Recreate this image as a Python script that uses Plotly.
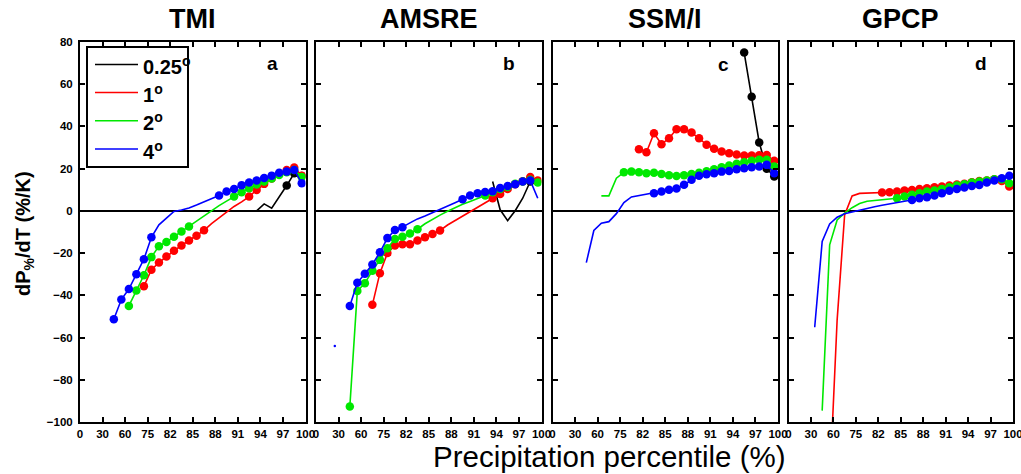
import plotly.graph_objects as go

N = 30  # percentile bins
tick_labels = ["0", "30", "60", "75", "82", "85", "88", "91", "94", "97", "100"]
panel_titles = ["TMI", "AMSRE", "SSM/I", "GPCP"]
panel_letters = ["a", "b", "c", "d"]
series_names = ["0.25<sup>o</sup>", "1<sup>o</sup>", "2<sup>o</sup>", "4<sup>o</sup>"]
series_colors = ["#000000", "#ff0000", "#00e800", "#0000ff"]


def series(start, values):
    out = [None] * N
    for i, v in enumerate(values):
        out[start + i] = v
    return out


# ---- TMI ----
tmi_025 = series(23, [0, 3.3, 1.3, 6.5, 12, 17.8, 16.5])
tmi_025_marked = [(27, 29)]
tmi_1 = series(8, [-35.7, -27.9, -24.5, -21.6, -18.9, -16.4, -14, -11.8, -9.2, -6, -3.2, -0.3,
                   2.1, 4.3, 6.8, 9.9, 12.8, 15.3, 17.5, 19.4, 20.5, 16.7])
tmi_1_marked = [(8, 16), (22, 29)]
tmi_2 = series(6, [-45, -37.7, -30.5, -21.9, -16.7, -14.7, -12.2, -9.8, -7.4, -4.6, -2.1, 0.3,
                   2.5, 4.6, 6.8, 8.8, 10.7, 12.5, 13.9, 15.3, 17.0, 18.3, 19.4, 16.1])
tmi_2_marked = [(6, 14), (20, 29)]
tmi_4 = series(4, [-51.3, -42, -37, -30, -22.9, -12.5, -6.6, -3.4, -0.3, 0.4, 1.4, 2.8, 4.3, 5.7,
                   7.3, 9.2, 10.4, 12.2, 13.4, 14.4, 15.6, 16.7, 18.1, 18.6, 19.4, 13.1])
tmi_4_marked = [(4, 9), (18, 29)]

# ---- AMSRE ----
amsre_025 = series(23, [13.9, 0.5, -4.6, 0.1, 6, 13.9])
amsre_025_marked = [(28, 28)]
amsre_1 = series(7, [-44.5, -29.5, -20, -16.4, -15.8, -15.8, -14, -12.5, -10.9, -9.3, -6.7, -4.6,
                     -2.6, -0.5, 1.6, 3.7, 6, 8, 10.4, 12.6, 14, 16, 14.4])
amsre_1_marked = [(7, 16), (23, 29)]
amsre_2 = series(4, [-92.7, -37.9, -34.3, -28.3, -23.2, -17.7, -13.3, -12.2, -10.7, -8.7, -6.1,
                     -3.9, -2, -0.2, 1.6, 3.1, 4.5, 5.8, 7.3, 8.8, 10.4, 11.3, 12.8, 13.9, 14.7, 13.4])
amsre_2_marked = [(4, 13), (22, 29)]
amsre_4 = series(2, [-64, None, -45, -34, -29.8, -25.4, -19.6, -12.9, -9, -7.7, -5.7, -3.8, -2.4,
                     -0.9, 0.7, 2.3, 3.9, 5.5, 7.3, 8.4, 8.9, 9.3, 10.8, 11.8, 12.6, 13.9, 14.4, 6])
amsre_4_marked = [(4, 11), (19, 28)]

# ---- SSM/I ----
ssmi_025 = series(25, [75, 54.1, 32.4, 20, 16.3])
ssmi_025_marked = [(25, 29)]
ssmi_1 = series(11, [29.2, 27.8, 36.8, 31.6, 34.4, 38.7, 38.7, 37.1, 34.4, 31.3, 29.4, 28.1, 27.3,
                     26.7, 26.2, 26.2, 26.4, 26.5, 23.7])
ssmi_1_marked = [(11, 29)]
ssmi_2 = series(6, [7.1, 7.1, 15.5, 18.3, 18.6, 18.3, 17.8, 18.1, 17.5, 16.9, 16.5, 16.9, 17.5, 18.1,
                    18.8, 19.7, 20.7, 21.5, 22.3, 23.0, 23.7, 24.2, 24.2, 21])
ssmi_2_marked = [(9, 29)]
ssmi_4 = series(4, [-24.5, -9.3, -5.8, -5.1, -1.3, 3.9, 6.6, 7.3, 7.8, 8.4, 9.2, 10, 10.6, 12.4, 14.7,
                    16.6, 17.4, 17.8, 18.6, 18.9, 19.7, 20.2, 20.7, 21.0, 21.8, 17.8])
ssmi_4_marked = [(13, 29)]

# ---- GPCP ----
gpcp_025 = [None] * N
gpcp_025_marked = []
gpcp_1 = series(5, [-130, -51.6, -1.9, 7.1, 8.3, 8.4, 8.6, 8.7, 8.8, 9.2, 9.6, 9.9, 10.4, 10.7, 11.2,
                    11.5, 12.0, 12.5, 12.9, 13.6, 14.1, 14.4, 15.0, 14.2, 11.5])
gpcp_1_marked = [(12, 29)]
gpcp_2 = series(4, [-94.6, -16.1, -4.3, -1.1, 1.5, 3.5, 4.6, 5.0, 5.3, 5.7, 6.0, 6.8, 7.6, 8.4, 9.2,
                    9.6, 10.4, 11.2, 12.0, 12.6, 13.4, 13.9, 14.4, 15.0, 15.0, 13.1])
gpcp_2_marked = [(14, 29)]
gpcp_4 = series(3, [-55.1, -14.5, -6.2, -3.0, -1.4, -0.5, 0.3, 1.1, 2.0, 2.7, 3.3, 4.0, 4.6, 5.2, 6.0,
                    6.5, 7.3, 8.4, 9.5, 10.4, 11.1, 11.8, 12.3, 13.4, 14.4, 15.5, 16.6])
gpcp_4_marked = [(16, 29)]

panels = [
    [(tmi_025, tmi_025_marked), (tmi_1, tmi_1_marked), (tmi_2, tmi_2_marked), (tmi_4, tmi_4_marked)],
    [(amsre_025, amsre_025_marked), (amsre_1, amsre_1_marked), (amsre_2, amsre_2_marked), (amsre_4, amsre_4_marked)],
    [(ssmi_025, ssmi_025_marked), (ssmi_1, ssmi_1_marked), (ssmi_2, ssmi_2_marked), (ssmi_4, ssmi_4_marked)],
    [(gpcp_025, gpcp_025_marked), (gpcp_1, gpcp_1_marked), (gpcp_2, gpcp_2_marked), (gpcp_4, gpcp_4_marked)],
]

W, H = 1021, 474
panel_px = [(80, 305.5), (316, 541.5), (552.5, 778), (788.5, 1013)]
top_px, bot_px = 42, 422


def px(x):
    return x / W


def py(y):
    return 1 - y / H


FONT = "Liberation Sans, Arial, sans-serif"
fig = go.Figure()
bins = list(range(N))

for p, panel in enumerate(panels):
    xa = "x" if p == 0 else f"x{p + 1}"
    ya = "y" if p == 0 else f"y{p + 1}"
    for s, (vals, marked) in enumerate(panel):
        sizes = []
        for k in range(N):
            on = any(a <= k <= b for a, b in marked)
            isolated = vals[k] is not None and (k == 0 or vals[k - 1] is None) and (k == N - 1 or vals[k + 1] is None)
            sizes.append(8.5 if on else (2.5 if isolated else 0))
        fig.add_trace(go.Scatter(
            x=bins, y=vals, mode="lines+markers", xaxis=xa, yaxis=ya,
            line=dict(color=series_colors[s], width=1.6),
            marker=dict(color=series_colors[s], size=sizes, line=dict(width=0), opacity=1),
            showlegend=False, connectgaps=False, hoverinfo="skip"))

    x0, x1 = panel_px[p]
    axis_common = dict(showline=True, linecolor="black", linewidth=2, mirror="ticks",
                       ticks="inside", ticklen=5, tickwidth=1.5, tickcolor="black", automargin=False,
                       showgrid=False, tickfont=dict(family=FONT, size=11.5, color="black", weight="bold"))
    xkey = "xaxis" if p == 0 else f"xaxis{p + 1}"
    ykey = "yaxis" if p == 0 else f"yaxis{p + 1}"
    fig.update_layout(**{
        xkey: dict(domain=[px(x0), px(x1)], range=[-0.5, N - 0.5],
                   tickmode="array", tickvals=[3 * j - 0.5 for j in range(len(tick_labels))],
                   ticktext=tick_labels, zeroline=False, anchor=ya, ticklabeloverflow="allow",
                   **axis_common),
        ykey: dict(domain=[py(bot_px), py(top_px)], range=[-100, 80],
                   tickmode="array", tickvals=list(range(-100, 81, 20)),
                   showticklabels=(p == 0), zeroline=True, zerolinecolor="black", zerolinewidth=2,
                   anchor=xa, ticklabelstandoff=3, **axis_common),
    })
    fig.add_annotation(text=f"<b>{panel_titles[p]}</b>", x=px((x0 + x1) / 2), y=py(19),
                       xref="paper", yref="paper", showarrow=False, xanchor="center", yanchor="middle",
                       font=dict(family=FONT, size=27, color="black"))

letter_pos = [(272, 63), (508.5, 63), (723, 64), (981, 63)]
for p, (lx, ly) in enumerate(letter_pos):
    fig.add_annotation(text=f"<b>{panel_letters[p]}</b>", x=px(lx), y=py(ly), xref="paper", yref="paper",
                       showarrow=False, xanchor="center", yanchor="middle",
                       font=dict(family=FONT, size=19, color="black"))

# legend box (panel a)
fig.add_shape(type="rect", xref="paper", yref="paper", x0=px(87), x1=px(188), y0=py(167), y1=py(47),
              line=dict(color="black", width=2), fillcolor="white", layer="above")
leg_y = [64.5, 92.5, 120.7, 149]
for s, name in enumerate(series_names):
    fig.add_shape(type="line", xref="paper", yref="paper", x0=px(95), x1=px(138), y0=py(leg_y[s]), y1=py(leg_y[s]),
                  line=dict(color=series_colors[s], width=1.6), layer="above")
    fig.add_annotation(text=f"<b>{name}</b>", x=px(141), y=py(leg_y[s] + 1), xref="paper", yref="paper",
                       xanchor="left", yanchor="middle", showarrow=False,
                       font=dict(family=FONT, size=20, color="black"))

fig.add_annotation(text="<b>dP<sub>%</sub>/dT (%/K)</b>", x=px(25), y=py(234), xref="paper", yref="paper",
                   textangle=-90, showarrow=False, xanchor="center", yanchor="middle",
                   font=dict(family=FONT, size=20, color="black"))
fig.add_annotation(text="Precipitation percentile (%)", x=px(609), y=py(456), xref="paper", yref="paper",
                   showarrow=False, xanchor="center", yanchor="middle",
                   font=dict(family=FONT, size=29.5, color="black"))

fig.update_layout(width=W, height=H, margin=dict(l=0, r=0, t=0, b=0, autoexpand=False),
                  plot_bgcolor="white", paper_bgcolor="white", showlegend=False)

fig.write_html("out.html", config={"displayModeBar": False},
               post_script="document.body.style.margin='0';document.body.style.overflow='hidden';")
